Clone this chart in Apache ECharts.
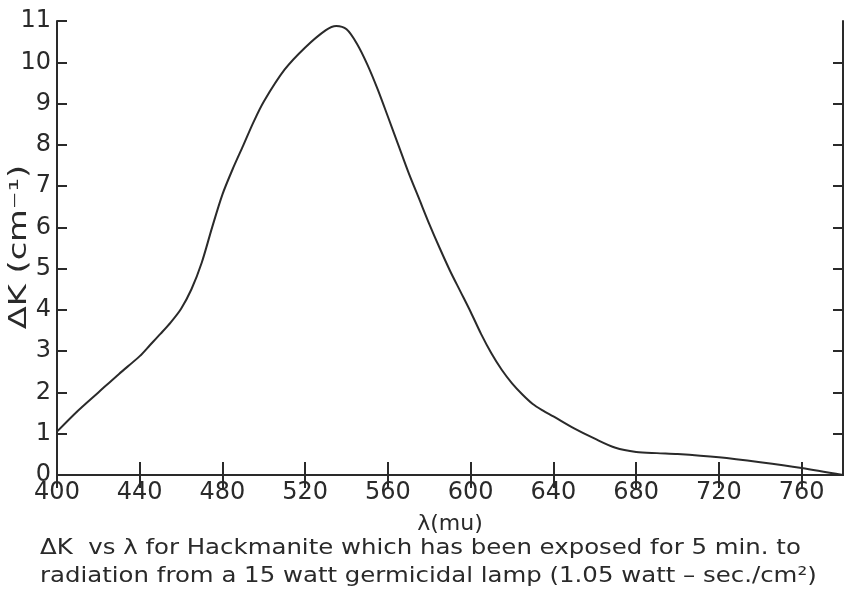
<!DOCTYPE html>
<html><head><meta charset="utf-8">
<script src="https://cdn.jsdelivr.net/npm/echarts@6/dist/echarts.min.js"></script>
<style>html,body{margin:0;padding:0;background:#fff}#c{width:850px;height:595px}</style>
</head><body><div id="c"></div>
<script>
const wavelengths = [400,410,420,430,440,445,450,455,460,465,470,475,480,485,490,495,500,510,520,530,535,540,545,550,555,560,565,570,575,580,585,590,595,600,605,610,615,620,625,630,635,640,650,660,670,680,690,700,720,740,760,780];
const deltaK =      [1.05,1.55,2.0,2.45,2.88,3.15,3.42,3.7,4.03,4.5,5.15,6.0,6.8,7.42,7.98,8.55,9.05,9.82,10.36,10.78,10.88,10.8,10.45,9.95,9.35,8.68,8.0,7.32,6.7,6.08,5.5,4.95,4.45,3.95,3.42,2.95,2.55,2.22,1.95,1.72,1.56,1.42,1.13,0.88,0.66,0.56,0.53,0.51,0.43,0.31,0.17,0.0];
const xTicks = [400,440,480,520,560,600,640,680,720,760];
const yTicks = [0,1,2,3,4,5,6,7,8,9,10,11];
const xName = 'λ(mu)';
const yName = 'ΔK (cm⁻¹)';
const caption1 = 'ΔK  vs λ for Hackmanite which has been exposed for 5 min. to';
const caption2 = 'radiation from a 15 watt germicidal lamp (1.05 watt – sec./cm²)';

const ink = '#2a2a2a';
const font = 'DejaVu Sans';
const chart = echarts.init(document.getElementById('c'), null, {renderer:'canvas'});
const data = wavelengths.map((w,i)=>[w, deltaK[i]]);
const tickStyle = {color:ink,width:2};
chart.setOption({
  animation:false,
  backgroundColor:'#fff',
  grid:{left:57,right:7,top:21,bottom:120,containLabel:false,outerBoundsMode:'none'},
  xAxis:[{
    type:'value',min:400,max:780,interval:40,position:'bottom',
    name:xName,nameLocation:'middle',nameGap:38,
    nameTextStyle:{color:ink,fontSize:22,fontFamily:font},
    axisLine:{lineStyle:{color:ink,width:2}},
    axisTick:{inside:true,length:13,lineStyle:tickStyle,customValues:xTicks},
    axisLabel:{color:ink,fontSize:24,fontFamily:font,margin:6,customValues:xTicks},
    splitLine:{show:false}
  },{
    type:'value',min:400,max:780,interval:40,position:'top',
    axisLine:{lineStyle:{color:ink,width:2}},
    axisTick:{inside:true,length:13,lineStyle:tickStyle,customValues:xTicks},
    axisLabel:{show:false},splitLine:{show:false}
  }],
  yAxis:[{
    type:'value',min:0,max:11,interval:1,position:'left',
    axisLine:{lineStyle:{color:ink,width:2}},
    axisTick:{inside:true,length:10,lineStyle:tickStyle,customValues:yTicks},
    axisLabel:{color:ink,fontSize:24,fontFamily:font,margin:6,customValues:yTicks},
    splitLine:{show:false}
  },{
    type:'value',min:0,max:11,interval:1,position:'right',
    axisLine:{lineStyle:{color:ink,width:2}},
    axisTick:{inside:true,length:10,lineStyle:tickStyle,customValues:yTicks.slice(1,11)},
    axisLabel:{show:false},splitLine:{show:false}
  }],
  series:[{
    type:'line',data:data,smooth:0.3,showSymbol:false,
    xAxisIndex:0,yAxisIndex:0,
    lineStyle:{color:ink,width:2}
  }],
  graphic:[
    {type:'text',x:20,y:247,rotation:Math.PI/2,scaleX:1.4,
      style:{text:yName,fill:ink,font:'24px '+font,align:'center',verticalAlign:'middle'}},
    {type:'text',x:40,y:548,scaleX:1.11,
      style:{text:caption1,fill:ink,font:'22px '+font,verticalAlign:'middle'}},
    {type:'text',x:40,y:576,scaleX:1.11,
      style:{text:caption2,fill:ink,font:'22px '+font,verticalAlign:'middle'}}
  ]
});
</script></body></html>
